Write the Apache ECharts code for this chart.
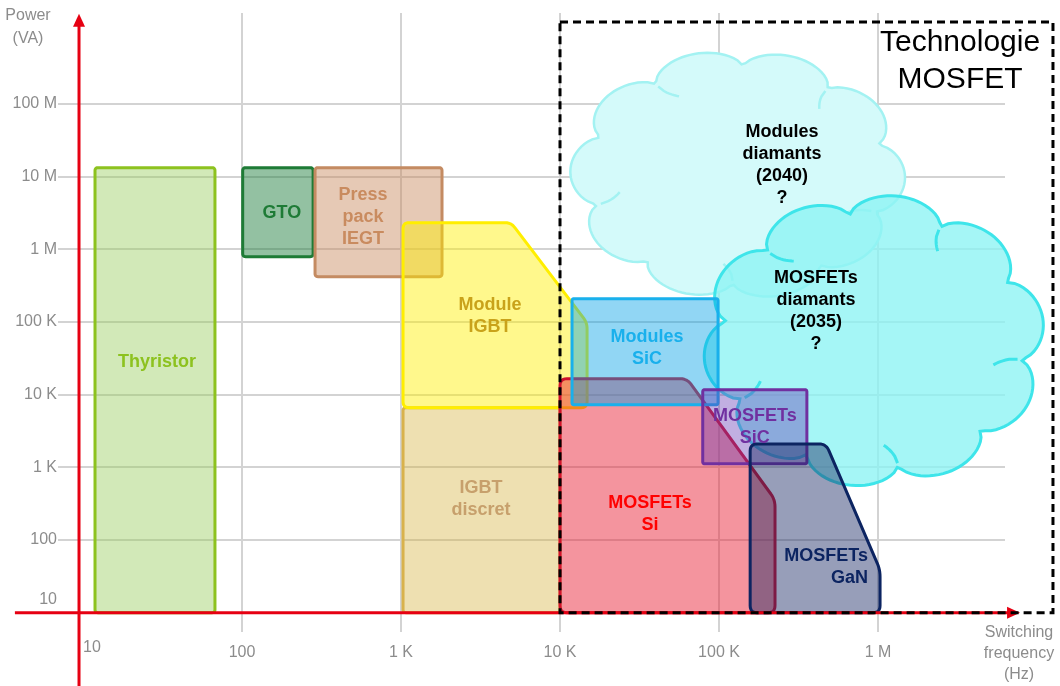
<!DOCTYPE html>
<html><head><meta charset="utf-8">
<script src="https://cdn.jsdelivr.net/npm/echarts@6/dist/echarts.min.js"></script>
<style>html,body{margin:0;padding:0;background:#fff}#c{width:1060px;height:686px}</style>
</head><body><div id="c"></div>
<script>
// ---------- tick labels ----------
const xTicks = [10, 100, 1e3, 1e4, 1e5, 1e6];
const xTickLabels = ['10', '100', '1 K', '10 K', '100 K', '1 M'];
const yTicks = [10, 100, 1e3, 1e4, 1e5, 1e6, 1e7, 1e8];
const yTickLabels = ['10', '100', '1 K', '10 K', '100 K', '1 M', '10 M', '100 M'];

// ---------- regions: [frequency (Hz), power (VA)] vertices ----------
const thyristor   = [[11.9, 10], [11.9, 1.33e7], [67.6, 1.33e7], [67.6, 10]];
const gto         = [[101, 7.93e5], [101, 1.33e7], [280, 1.33e7], [280, 7.93e5]];
const iegt        = [[288, 4.21e5], [288, 1.33e7], [1811, 1.33e7], [1811, 4.21e5]];
const igbtDiscret = [[1030, 10], [1030, 6.62e3], [1e4, 6.62e3], [1e4, 10]];
const moduleIgbt  = [[1030, 6.62e3], [1030, 2.33e6], [4920, 2.33e6], [1.48e4, 9.79e4], [1.48e4, 6.62e3]];
const mosfetSi    = [[1e4, 10], [1e4, 1.66e4], [6.29e4, 1.66e4], [2.25e5, 359], [2.25e5, 10]];
const modulesSiC  = [[1.19e4, 7.28e3], [1.19e4, 2.09e5], [9.86e4, 2.09e5], [9.86e4, 7.28e3]];
const mosfetSiC   = [[7.9e4, 1.12e3], [7.9e4, 1.17e4], [3.57e5, 1.17e4], [3.57e5, 1.12e3]];
const mosfetGaN   = [[1.57e5, 10], [1.57e5, 2.1e3], [4.71e5, 2.1e3], [1.03e6, 39], [1.03e6, 10]];

// ---------- future (clouds): [freq range], [power range] ----------
const cloud1Freq = [1.16e4, 1.48e6];
const cloud1Power = [2.03e5, 5.59e8];
const cloud2Freq = [7.9e4, 1.12e7];
const cloud2Power = [542, 5.65e6];

// MOSFET technology frame
const mosfetFrameFreq = [1e4, 1.26e7];
const mosfetFramePower = [10, 1.344e9];

// ---------- texts ----------
const regionTexts = ['Thyristor', 'GTO', 'Press\npack\nIEGT', 'IGBT\ndiscret', 'Module\nIGBT',
  'MOSFETs\nSi', 'Modules\nSiC', 'MOSFETs\nSiC', 'MOSFETs\nGaN'];
const cloudTexts = ['Modules\ndiamants\n(2040)\n?', 'MOSFETs\ndiamants\n(2035)\n?'];
const frameText = 'Technologie\nMOSFET';

// ---------- layout / style config ----------
const regions = [thyristor, gto, iegt, igbtDiscret, moduleIgbt, mosfetSi, modulesSiC, mosfetSiC, mosfetGaN];
const regionStyle = [
  {fill: 'rgba(150,205,90,0.43)', stroke: '#8dc21f', text: '#8dc21f', r: 3},
  {fill: 'rgba(30,125,60,0.48)', stroke: '#1e7b36', text: '#1e7b36', r: 3},
  {fill: 'rgba(200,135,90,0.45)', stroke: '#c48b62', text: '#c98b5f', r: 3},
  {fill: 'rgba(215,180,70,0.42)', stroke: '#d8b24c', text: '#c7a06c', r: 3},
  {fill: 'rgba(255,240,0,0.45)', stroke: '#ffee00', text: '#c9a21a', r: 6},
  {fill: 'rgba(232,28,48,0.47)', stroke: '#d0122c', text: '#ff0000', r: 7},
  {fill: 'rgba(0,160,230,0.43)', stroke: '#19b0ec', text: '#19b0ec', r: 2},
  {fill: 'rgba(100,55,180,0.40)', stroke: '#7030a0', text: '#7030a0', r: 2},
  {fill: 'rgba(25,40,100,0.45)', stroke: '#0c2461', text: '#0c2461', r: 7}
];
const regionLabelAt = [[29.2, 2.84e4], [178, 3.19e6], [577, 2.81e6], [3185, 371], [3631, 1.22e5],
  [3.68e4, 230], [3.52e4, 4.44e4], [1.68e5, 3.57e3], [8.65e5, 42.3]];
const regionLabelAlign = ['center', 'center', 'center', 'center', 'center', 'center', 'center', 'center', 'right'];
const cloudLabelAt = [[2.49e5, 1.46e7], [4.07e5, 1.43e5]];
const frameLabelAt = [3.28e6, 3.82e8];

const xRange = [6.963, 6.29e6];
const yRange = [5.42, 1.788e9];
const FONT = '"Liberation Sans", Arial, sans-serif';
const GREY = '#8c8c8c';
const RED = '#e60012';

function tickIndex(ticks, v) {
  const L = Math.log10(v);
  return ticks.findIndex(t => Math.abs(Math.log10(t) - L) < 1e-6);
}

function roundPts(pts, r) {
  const out = [], n = pts.length;
  for (let i = 0; i < n; i++) {
    const p = pts[i], a = pts[(i - 1 + n) % n], b = pts[(i + 1) % n];
    const d1x = a[0] - p[0], d1y = a[1] - p[1], l1 = Math.hypot(d1x, d1y) || 1;
    const d2x = b[0] - p[0], d2y = b[1] - p[1], l2 = Math.hypot(d2x, d2y) || 1;
    const rr = Math.min(r, l1 / 2, l2 / 2);
    const s = [p[0] + d1x / l1 * rr, p[1] + d1y / l1 * rr];
    const e = [p[0] + d2x / l2 * rr, p[1] + d2y / l2 * rr];
    for (let k = 0; k <= 6; k++) {
      const t = k / 6, u = 1 - t;
      out.push([u * u * s[0] + 2 * u * t * p[0] + t * t * e[0], u * u * s[1] + 2 * u * t * p[1] + t * t * e[1]]);
    }
  }
  return out;
}

// cloud outline: scalloped ellipse + a few inner arcs at cusps
function cloudShape(x0, y0, x1, y1, bumps, phase, amp, innerEvery) {
  const cx = (x0 + x1) / 2, cy = (y0 + y1) / 2, rx = Math.abs(x1 - x0) / 2, ry = Math.abs(y1 - y0) / 2;
  const seg = 2 * Math.PI / bumps;
  const kf = t => (1 - amp) + amp * Math.sqrt(Math.max(0, Math.sin(Math.PI * t)));
  const pt = (th, k) => [cx + rx * k * Math.cos(th), cy + ry * k * Math.sin(th)];
  const outline = [], steps = bumps * 24;
  for (let i = 0; i < steps; i++) {
    const th = i / steps * 2 * Math.PI;
    let t = ((th - phase) / seg) % 1; if (t < 0) t += 1;
    outline.push(pt(th, kf(t)));
  }
  const inner = [];
  for (let j = 0; j < bumps; j += innerEvery) {
    const thc = phase + j * seg;
    const arc = [];
    for (let s = 0; s <= 8; s++) {
      const u = s / 8 * 0.22;
      const k = (1 - amp) - amp * 1.1 * Math.sqrt(Math.sin(Math.PI * u));
      arc.push(pt(thc + u * seg * 0.6, k));
    }
    inner.push(arc);
  }
  return {outline, inner};
}

const chart = echarts.init(document.getElementById('c'));
const labelStyleX = {fontSize: 16, color: GREY, fontFamily: FONT};
const option = {
  animation: false,
  grid: {left: 58, right: 55, top: 13, bottom: 54, containLabel: false, outerBoundsMode: 'none'},
  xAxis: {
    type: 'log', logBase: 10, min: xRange[0], max: xRange[1],
    axisLine: {show: false}, axisTick: {show: false}, splitLine: {show: false}, minorTick: {show: false},
    axisLabel: {
      margin: 3, fontSize: 16, color: GREY, fontFamily: FONT,
      formatter: v => { const i = tickIndex(xTicks, v); if (i < 0) return ''; return (i === 0 ? '{s|' : '{n|') + xTickLabels[i] + '}'; },
      rich: {n: Object.assign({padding: [10, 0, 0, 0]}, labelStyleX), s: Object.assign({padding: [5, 0, 0, 18]}, labelStyleX)}
    }
  },
  yAxis: {
    type: 'log', logBase: 10, min: yRange[0], max: yRange[1],
    axisLine: {show: false}, axisTick: {show: false}, splitLine: {show: false}, minorTick: {show: false},
    axisLabel: {
      margin: 1, fontSize: 16, color: GREY, fontFamily: FONT,
      formatter: v => { const i = tickIndex(yTicks, v); if (i < 0) return ''; return (i === 0 ? '{s|' : '{n|') + yTickLabels[i] + '}'; },
      rich: {n: Object.assign({}, labelStyleX), s: Object.assign({padding: [0, 0, 26, 0]}, labelStyleX)}
    }
  },
  graphic: [
    {type: 'text', x: 28, y: 4, z: 10, style: {text: 'Power\n(VA)', fill: GREY, font: '16px ' + FONT, align: 'center', verticalAlign: 'top', lineHeight: 23}},
    {type: 'text', x: 1019, y: 622, z: 10, style: {text: 'Switching\nfrequency\n(Hz)', fill: GREY, font: '16px ' + FONT, align: 'center', verticalAlign: 'top', lineHeight: 21}}
  ],
  series: [
    { // horizontal grid lines
      type: 'custom', z: 1, silent: true,
      data: yTicks.slice(1).map(v => [xTicks[0], v]),
      renderItem: (params, api) => {
        const cs = params.coordSys; const y = Math.round(api.coord([api.value(0), api.value(1)])[1]);
        return {type: 'line', shape: {x1: cs.x, y1: y, x2: cs.x + cs.width, y2: y}, style: {stroke: '#d3d3d3', lineWidth: 2}};
      }
    },
    { // vertical grid lines
      type: 'custom', z: 1, silent: true,
      data: xTicks.slice(1).map(v => [v, yTicks[0]]),
      renderItem: (params, api) => {
        const cs = params.coordSys; const x = Math.round(api.coord([api.value(0), api.value(1)])[0]);
        return {type: 'line', shape: {x1: x, y1: cs.y, x2: x, y2: cs.y + cs.height}, style: {stroke: '#d3d3d3', lineWidth: 2}};
      }
    },
    { // clouds
      type: 'custom', z: 2, silent: true, clip: false,
      data: [[cloud1Freq[0], cloud1Power[0]], [cloud2Freq[0], cloud2Power[0]]],
      renderItem: (params, api) => {
        const i = params.dataIndex;
        const f = i === 0 ? cloud1Freq : cloud2Freq, p = i === 0 ? cloud1Power : cloud2Power;
        const a = api.coord([f[0], p[0]]), b = api.coord([f[1], p[1]]);
        const cl = cloudShape(a[0], b[1], b[0], a[1], i === 0 ? 10 : 10, i === 0 ? 0.35 : 0.15, 0.15, 2);
        const st = i === 0 ? {fill: '#d4fafa', stroke: '#a3f2f2', lineWidth: 2.5}
                           : {fill: 'rgba(140,244,244,0.78)', stroke: '#3ee5ea', lineWidth: 3};
        const children = [{type: 'polygon', shape: {points: cl.outline}, style: st}];
        cl.inner.forEach(arc => children.push({type: 'polyline', shape: {points: arc},
          style: {fill: 'none', stroke: st.stroke, lineWidth: st.lineWidth}}));
        return {type: 'group', children};
      }
    },
    { // technology regions
      type: 'custom', z: 3, silent: true, clip: false,
      data: regionLabelAt,
      renderItem: (params, api) => {
        const i = params.dataIndex, st = regionStyle[i];
        const pts = regions[i].map(p => api.coord(p));
        return {type: 'polygon', shape: {points: roundPts(pts, st.r)},
          style: {fill: st.fill, stroke: st.stroke, lineWidth: 3, lineJoin: 'round'}};
      }
    },
    { // red axes with arrows
      type: 'custom', z: 4, silent: true, clip: false,
      data: [[9.44, 10]],
      renderItem: (params, api) => {
        const o = api.coord([9.44, 10]);
        const xs = api.coord([3.73, 10])[0], xe = api.coord([7.82e6, 10])[0];
        const yb = api.coord([9.44, 0.9])[1], yt = api.coord([9.44, 1.75e9])[1];
        const st = {stroke: RED, lineWidth: 3};
        return {type: 'group', children: [
          {type: 'line', shape: {x1: xs, y1: o[1], x2: xe - 10, y2: o[1]}, style: st},
          {type: 'polygon', shape: {points: [[xe, o[1]], [xe - 13, o[1] - 6], [xe - 13, o[1] + 6]]}, style: {fill: RED}},
          {type: 'line', shape: {x1: o[0], y1: yb, x2: o[0], y2: yt + 10}, style: st},
          {type: 'polygon', shape: {points: [[o[0], yt], [o[0] - 6, yt + 13], [o[0] + 6, yt + 13]]}, style: {fill: RED}}
        ]};
      }
    },
    { // MOSFET technology dashed frame
      type: 'custom', z: 5, silent: true, clip: false,
      data: [[mosfetFrameFreq[0], mosfetFramePower[0]]],
      renderItem: (params, api) => {
        const a = api.coord([mosfetFrameFreq[0], mosfetFramePower[0]]), b = api.coord([mosfetFrameFreq[1], mosfetFramePower[1]]);
        return {type: 'rect', shape: {x: a[0], y: b[1], width: b[0] - a[0], height: a[1] - b[1]},
          style: {fill: 'none', stroke: '#000', lineWidth: 3, lineDash: [8, 5]}};
      }
    },
    { // labels
      type: 'custom', z: 6, silent: true, clip: false,
      data: regionLabelAt.concat(cloudLabelAt, [frameLabelAt]),
      renderItem: (params, api) => {
        const i = params.dataIndex;
        const c = api.coord([api.value(0), api.value(1)]);
        let text, fill, align = 'center', font = 'bold 18px ' + FONT, lh = 22;
        if (i < regionTexts.length) { text = regionTexts[i]; fill = regionStyle[i].text; align = regionLabelAlign[i]; }
        else if (i < regionTexts.length + 2) { text = cloudTexts[i - regionTexts.length]; fill = '#000'; }
        else { text = frameText; fill = '#000'; font = '30px ' + FONT; lh = 37; }
        return {type: 'text', x: c[0], y: c[1], style: {text: text, fill: fill, font: font, align: align, verticalAlign: 'middle', lineHeight: lh}};
      }
    }
  ]
};
chart.setOption(option);
</script></body></html>
